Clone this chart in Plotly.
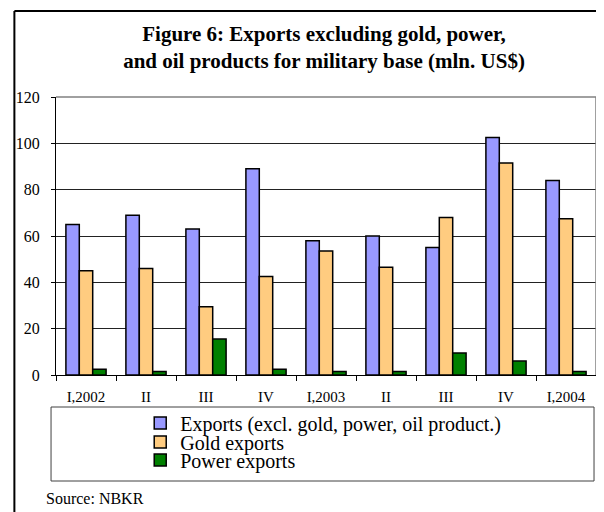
import plotly.graph_objects as go

categories = ["I,2002", "II ", "III ", "IV ", "I,2003", "II  ", "III  ", "IV  ", "I,2004"]
tick_labels = ["I,2002", "II", "III", "IV", "I,2003", "II", "III", "IV", "I,2004"]
exports = [65, 69, 63, 89, 58, 60, 55, 102.5, 84]
gold = [45, 46, 29.5, 42.5, 53.5, 46.5, 68, 91.5, 67.5]
power = [2.5, 1.5, 15.5, 2.5, 1.5, 1.5, 9.5, 6, 1.5]
series_names = ["Exports (excl. gold, power, oil product.)", "Gold exports", "Power exports"]
colors = ["#9999FF", "#FFCC80", "#008000"]

# the page body has an 8px margin, so the figure is 8px smaller each way
OFF = 8
W, H = 604 - OFF, 512 - OFF
# plot area in window pixels: x 51..596, y 97..375
L, R, T, B = 51 - OFF, 604 - 596, 97 - OFF, 512 - 375
pw, ph = W - L - R, H - T - B

def px(x):
    return (x - OFF - L) / pw

def py(y):
    return (H - B - (y - OFF)) / ph

fig = go.Figure()
legends = ["legend", "legend2", "legend3"]
for name, vals, col, lg in zip(series_names, [exports, gold, power], colors, legends):
    fig.add_trace(go.Bar(x=categories, y=vals, name=name, legend=lg,
                         marker=dict(color=col, line=dict(color="black", width=1.5))))

serif = "Liberation Serif, Times New Roman, serif"
leg_common = dict(font=dict(family=serif, size=20, color="black"), bgcolor="rgba(0,0,0,0)",
                  borderwidth=0, xanchor="left", yanchor="middle", itemclick=False)
leg_x = px(136)
fig.update_layout(
    width=W, height=H,
    margin=dict(l=L, r=R, t=T, b=B),
    paper_bgcolor="white", plot_bgcolor="white",
    barmode="group", bargap=0.33, bargroupgap=0,
    title=dict(text="Figure 6: Exports excluding gold, power,<br>and oil products for military base (mln. US$)",
               x=(324 - OFF) / W, xanchor="center", y=1 - 33 / H, yanchor="middle",
               font=dict(family=serif, size=21, color="black", weight="bold")),
    legend=dict(x=leg_x, y=py(423), **leg_common),
    legend2=dict(x=leg_x, y=py(442), **leg_common),
    legend3=dict(x=leg_x, y=py(460), **leg_common),
    xaxis=dict(tickvals=categories, ticktext=tick_labels, showline=True, linecolor="black", linewidth=1,
               ticks="outside", tickson="boundaries", ticklen=5, tickcolor="black",
               tickfont=dict(family=serif, size=15, color="black"), ticklabelstandoff=8,
               showgrid=False),
    yaxis=dict(range=[0, 120], dtick=20, showline=True, linecolor="black", linewidth=1,
               ticks="outside", ticklen=4, tickcolor="black",
               tickfont=dict(family=serif, size=16, color="black"), ticklabelstandoff=8,
               showgrid=True, gridcolor="#222", gridwidth=1, zeroline=False),
    showlegend=True,
)

shapes = [
    # plot area top/right border
    dict(type="line", xref="paper", yref="paper", x0=0, x1=1, y0=1, y1=1, line=dict(color="#808080", width=1.5)),
    dict(type="line", xref="paper", yref="paper", x0=1, x1=1, y0=0, y1=1, line=dict(color="#808080", width=1.5)),
    # legend box
    dict(type="rect", xref="paper", yref="paper", x0=px(46), x1=px(594), y0=py(481), y1=py(407),
         line=dict(color="#404040", width=1)),
    # outer frame
    dict(type="line", xref="paper", yref="paper", x0=px(9), x1=px(9), y0=py(11), y1=py(530), line=dict(color="black", width=2)),
    dict(type="line", xref="paper", yref="paper", x0=px(9), x1=px(620), y0=py(11), y1=py(11), line=dict(color="black", width=2)),
]
fig.update_layout(shapes=shapes)

fig.add_annotation(text="Source: NBKR", xref="paper", yref="paper", x=px(39), y=py(498),
                   xanchor="left", yanchor="middle", showarrow=False,
                   font=dict(family=serif, size=16, color="black"))

fig.write_html("out.html")
